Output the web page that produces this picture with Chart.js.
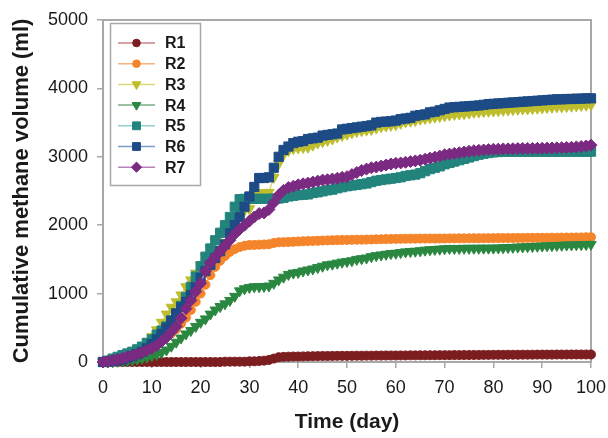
<!DOCTYPE html>
<html>
<head>
<meta charset="utf-8">
<script src="https://cdn.jsdelivr.net/npm/chart.js@4/dist/chart.umd.min.js"></script>
<style>
  html, body { margin: 0; padding: 0; background: #fff; }
  #wrap { width: 608px; height: 438px; }
</style>
</head>
<body>
<div id="wrap"><canvas id="myChart" width="608" height="438"></canvas></div>
<script>
// day of measurement
const days = [0,1,2,3,4,5,6,7,8,9,10,11,12,13,14,15,16,17,18,19,20,
  21,22,23,24,25,26,27,28,29,30,31,32,33,34,35,36,37,38,39,40,
  41,42,43,44,45,46,47,48,49,50,51,52,53,54,55,56,57,58,59,60,
  61,62,63,64,65,66,67,68,69,70,71,72,73,74,75,76,77,78,79,80,
  81,82,83,84,85,86,87,88,89,90,91,92,93,94,95,96,97,98,99,100];

const seriesNames = ["R1", "R2", "R3", "R4", "R5", "R6", "R7"];

// cumulative methane volume (ml)
const r1 = [0,0,0,0,0,0,0,0,0,0,0,0,0,0,0,0,0,0,0,0,0,
  0,0,0,0,5,5,5,5,5,10,10,15,20,30,50,70,75,78,80,80,
  82,84,85,86,88,88,89,90,90,90,91,92,92,93,93,94,94,95,95,95,
  96,96,97,97,98,98,99,99,100,100,100,101,101,102,102,103,103,104,104,105,
  105,105,106,106,106,107,107,107,108,108,108,108,109,109,109,110,110,110,110,110];

const r2 = [0,5,15,30,50,65,85,110,140,175,215,260,310,365,420,480,560,650,760,880,1000,
  1130,1270,1390,1480,1550,1610,1650,1680,1700,1710,1712,1715,1718,1722,1740,1750,1752,1755,1758,1762,
  1765,1768,1770,1772,1775,1778,1780,1782,1784,1785,1786,1788,1789,1790,1791,1793,1795,1797,1799,1800,
  1801,1802,1803,1803,1804,1804,1805,1805,1806,1806,1807,1807,1808,1808,1809,1809,1810,1810,1811,1811,
  1812,1812,1813,1813,1814,1814,1815,1815,1816,1816,1817,1818,1818,1819,1820,1820,1821,1822,1823,1825];

const r3 = [0,5,15,30,50,75,110,160,220,290,370,470,580,700,800,880,980,1100,1200,1300,1420,
  1540,1660,1770,1860,1940,2020,2100,2200,2220,2240,2460,2470,2475,2480,2700,2900,3030,3090,3120,3130,
  3135,3140,3170,3200,3220,3240,3260,3290,3310,3330,3350,3370,3380,3390,3400,3420,3440,3450,3460,3470,
  3490,3510,3520,3530,3550,3560,3570,3580,3590,3600,3610,3620,3625,3630,3640,3650,3655,3660,3665,3670,
  3675,3680,3685,3690,3695,3700,3700,3705,3710,3715,3720,3725,3730,3730,3735,3740,3745,3750,3755,3760];

const r4 = [0,0,5,10,15,20,30,40,55,70,90,110,140,175,230,290,350,410,460,520,580,
  630,700,760,810,850,900,960,1040,1070,1090,1100,1100,1105,1110,1150,1200,1240,1280,1300,1310,
  1330,1345,1360,1380,1400,1420,1430,1445,1460,1470,1480,1500,1510,1520,1540,1555,1565,1575,1585,1590,
  1600,1610,1615,1620,1625,1635,1640,1645,1650,1655,1660,1660,1660,1662,1662,1663,1663,1664,1664,1665,
  1667,1670,1673,1676,1680,1683,1686,1689,1692,1695,1698,1701,1704,1707,1710,1712,1714,1716,1718,1720];

const r5 = [0,20,50,75,100,125,150,185,225,280,330,400,460,520,610,710,820,950,1100,1250,1400,
  1540,1660,1780,1890,2000,2120,2270,2380,2385,2385,2385,2385,2385,2385,2390,2390,2400,2420,2430,2440,
  2445,2450,2470,2480,2495,2510,2520,2540,2555,2570,2580,2590,2600,2610,2630,2650,2660,2670,2680,2690,
  2700,2720,2730,2740,2760,2790,2820,2840,2860,2890,2910,2930,2950,2970,2990,3010,3030,3045,3055,3065,
  3070,3075,3075,3075,3075,3075,3075,3075,3075,3075,3075,3075,3075,3075,3075,3075,3075,3075,3075,3075];

const r6 = [0,5,15,25,40,60,85,115,150,200,260,330,410,500,600,710,800,880,980,1100,1230,
  1330,1420,1520,1620,1720,1880,2000,2120,2270,2420,2560,2690,2690,2700,2840,3000,3100,3150,3200,3220,
  3230,3260,3270,3280,3310,3320,3330,3340,3400,3410,3420,3430,3440,3450,3460,3500,3510,3515,3520,3530,
  3550,3560,3570,3600,3610,3620,3650,3660,3680,3700,3720,3725,3730,3735,3740,3745,3750,3760,3770,3775,
  3780,3785,3790,3795,3800,3805,3810,3815,3820,3825,3830,3835,3840,3840,3845,3845,3850,3850,3855,3855];

const r7 = [0,10,25,40,55,75,95,115,140,170,200,240,300,360,440,520,640,780,900,1030,1150,
  1330,1450,1540,1620,1700,1780,1870,1940,2000,2060,2120,2170,2180,2230,2330,2440,2510,2550,2570,2590,
  2605,2615,2630,2645,2660,2665,2675,2685,2700,2710,2740,2770,2800,2820,2840,2850,2865,2880,2895,2905,
  2910,2920,2930,2940,2950,2965,2980,2995,3010,3030,3040,3050,3060,3070,3080,3090,3095,3100,3105,3110,
  3112,3115,3116,3118,3120,3121,3122,3123,3124,3125,3127,3129,3131,3134,3137,3140,3145,3150,3158,3170];

const allSeries = [r1, r2, r3, r4, r5, r6, r7];

const markerColors = ["#7c1d1f", "#f5852b", "#bdbd2e", "#2a8740", "#22847c", "#1d4b86", "#7b2a82"];
const lineColors = ["#c98686", "#f9b37c", "#d9d977", "#78b082", "#93d0cc", "#7f9dc9", "#b782bd"];
const markerStyles = ["circle", "circle", "triangle", "triangle", "rect", "rect", "rectRot"];
const markerRotation = [0, 0, 180, 180, 0, 0, 0];
const markerSize = [4.5, 4.5, 6, 6, 6.5, 6.5, 6];

const FONT = "'Liberation Sans', Arial, sans-serif";

// box round the plot area
const frame = {
  id: "frame",
  beforeDatasetsDraw(chart) {
    const { ctx, chartArea: a } = chart;
    ctx.save();
    ctx.strokeStyle = "#a8a8a8";
    ctx.lineWidth = 2;
    ctx.strokeRect(a.left, a.top, a.right - a.left, a.bottom - a.top);
    ctx.restore();
  },
};

// legend with line + marker, like the original
const lineLegend = {
  id: "lineLegend",
  afterDraw(chart) {
    const ctx = chart.ctx;
    const x0 = 110.5, y0 = 23.5, w = 90, h = 162;
    ctx.save();
    ctx.fillStyle = "#fff";
    ctx.fillRect(x0, y0, w, h);
    ctx.strokeStyle = "#a8a8a8";
    ctx.lineWidth = 1.5;
    ctx.strokeRect(x0, y0, w, h);
    chart.data.datasets.forEach((ds, i) => {
      const y = 43 + i * 20.7;
      ctx.strokeStyle = ds.borderColor;
      ctx.lineWidth = 1.5;
      ctx.beginPath();
      ctx.moveTo(118, y);
      ctx.lineTo(155, y);
      ctx.stroke();
      ctx.fillStyle = ds.pointBackgroundColor;
      ctx.strokeStyle = ds.pointBackgroundColor;
      ctx.lineWidth = 1;
      Chart.helpers.drawPoint(ctx, {
        pointStyle: ds.pointStyle,
        rotation: ds.pointRotation,
        radius: ds.pointRadius * 0.85,
        borderWidth: 1,
      }, 136.5, y);
      ctx.fillStyle = "#1a1a1a";
      ctx.font = "bold 16px " + FONT;
      ctx.textBaseline = "middle";
      ctx.fillText(ds.label, 165, y + 1);
    });
    ctx.restore();
  },
};

document.addEventListener("DOMContentLoaded", function () {
  const datasets = allSeries.map((vals, i) => ({
    label: seriesNames[i],
    data: vals.map((v, k) => ({ x: days[k], y: v })),
    borderColor: lineColors[i],
    borderWidth: 1.5,
    pointStyle: markerStyles[i],
    pointRotation: markerRotation[i],
    pointRadius: markerSize[i],
    pointBackgroundColor: markerColors[i],
    pointBorderColor: markerColors[i],
    pointBorderWidth: 1,
    tension: 0,
    clip: false,
    order: 6 - i, // later series drawn on top
  }));

  const ctx = document.getElementById("myChart").getContext("2d");
  new Chart(ctx, {
    type: "line",
    data: { datasets: datasets },
    plugins: [frame, lineLegend],
    options: {
      responsive: false,
      animation: false,
      layout: { padding: { left: 0, top: 20, right: 17, bottom: 0 } },
      plugins: {
        legend: { display: false },
        tooltip: { enabled: false },
      },
      scales: {
        x: {
          type: "linear",
          min: 0,
          max: 100,
          ticks: {
            stepSize: 10,
            color: "#1a1a1a",
            padding: 9,
            maxRotation: 0,
            font: { family: FONT, size: 18 },
            callback: (v) => String(v),
          },
          grid: {
            drawOnChartArea: false,
            drawTicks: true,
            tickLength: 6,
            color: "#a8a8a8",
            lineWidth: 1.5,
          },
          border: { display: true, color: "#a8a8a8", width: 2 },
          title: {
            display: true,
            text: "Time (day)",
            color: "#1a1a1a",
            font: { family: FONT, size: 21, weight: "bold" },
            padding: { top: 0, bottom: 3 },
          },
          afterFit: (s) => {
            s.height = 76;
            s.paddingLeft = 0;
            s.paddingRight = 0;
          },
        },
        y: {
          min: 0,
          max: 5000,
          ticks: {
            stepSize: 1000,
            color: "#1a1a1a",
            padding: 9,
            font: { family: FONT, size: 18 },
            callback: (v) => String(v),
          },
          grid: {
            drawOnChartArea: false,
            drawTicks: true,
            tickLength: 6,
            color: "#a8a8a8",
            lineWidth: 1.5,
          },
          border: { display: true, color: "#a8a8a8", width: 2 },
          title: {
            display: true,
            text: "Cumulative methane volume (ml)",
            color: "#1a1a1a",
            font: { family: FONT, size: 22, weight: "bold" },
            padding: { top: 9, bottom: 0 },
          },
          afterFit: (s) => {
            s.width = 103;
            s.paddingTop = 0;
            s.paddingBottom = 0;
          },
        },
      },
    },
  });
});
</script>
</body>
</html>
